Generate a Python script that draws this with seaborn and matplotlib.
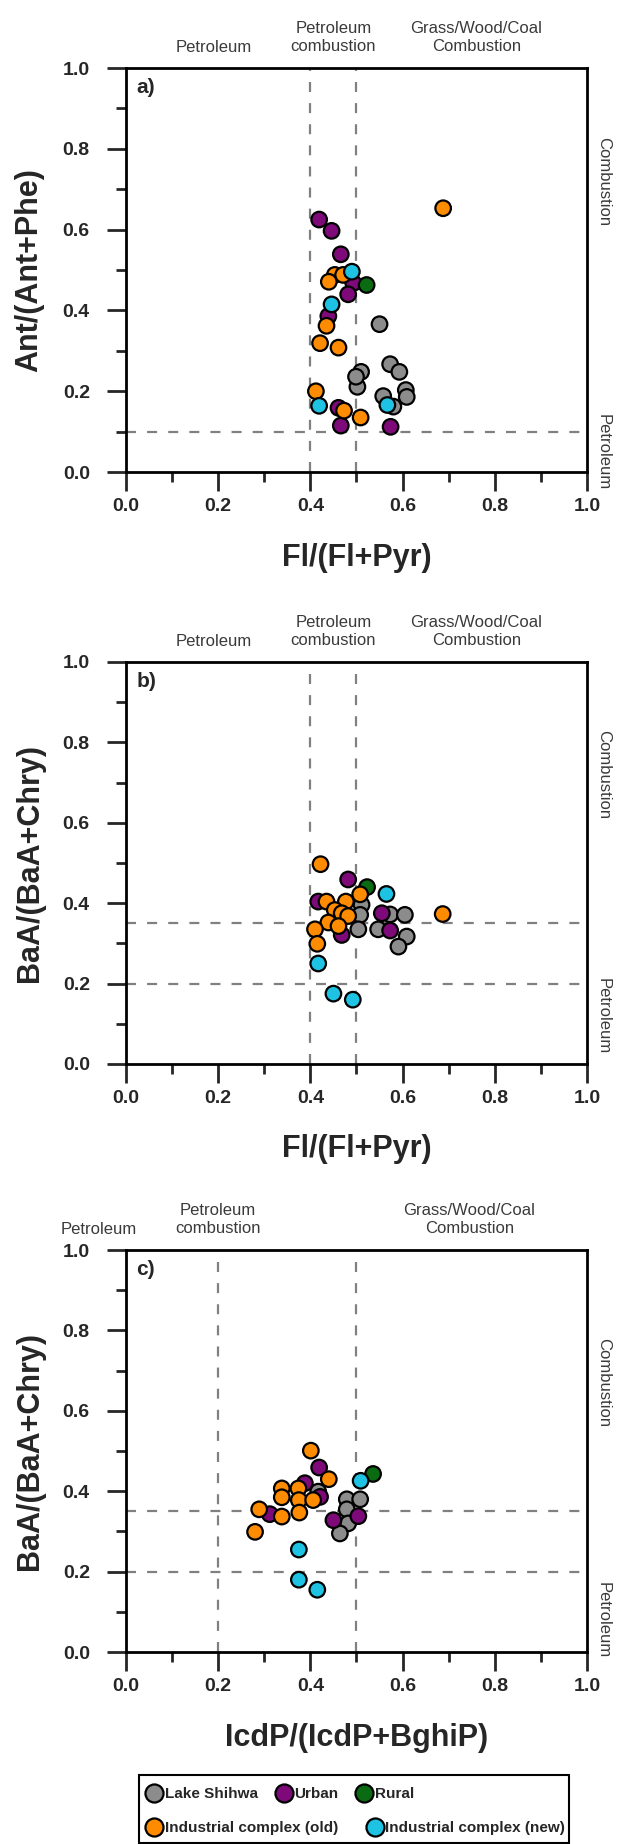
import matplotlib.pyplot as plt
import matplotlib.patches as mpatches
from matplotlib.lines import Line2D
from matplotlib.ticker import MultipleLocator
import pandas as pd
import seaborn as sns

# groups / colours
groups = ['Lake Shihwa', 'Urban', 'Rural', 'Industrial complex (old)', 'Industrial complex (new)']
colors = ['#8c8c8c', '#7d0a78', '#0b6b12', '#ff8c00', '#1ec3e3']

# panel a: Fl/(Fl+Pyr) vs Ant/(Ant+Phe)
a_x = [0.55, 0.573, 0.593, 0.510, 0.502, 0.499, 0.558, 0.607, 0.609, 0.58,
       0.419, 0.446, 0.466, 0.493, 0.482, 0.439, 0.461, 0.466, 0.574,
       0.522,
       0.688, 0.453, 0.471, 0.440, 0.435, 0.421, 0.461, 0.412, 0.473, 0.509,
       0.490, 0.446, 0.419, 0.567]
a_y = [0.366, 0.267, 0.248, 0.248, 0.211, 0.236, 0.188, 0.203, 0.186, 0.162,
       0.625, 0.597, 0.539, 0.468, 0.44, 0.386, 0.159, 0.115, 0.112,
       0.463,
       0.653, 0.488, 0.488, 0.471, 0.362, 0.319, 0.308, 0.2, 0.152, 0.135,
       0.496, 0.415, 0.164, 0.166]
a_grp = ['Lake Shihwa'] * 10 + ['Urban'] * 9 + ['Rural'] + \
        ['Industrial complex (old)'] * 10 + ['Industrial complex (new)'] * 4

# panel b: Fl/(Fl+Pyr) vs BaA/(BaA+Chry)
b_x = [0.511, 0.573, 0.605, 0.508, 0.504, 0.547, 0.609, 0.591,
       0.482, 0.417, 0.555, 0.573, 0.468,
       0.523,
       0.422, 0.508, 0.435, 0.477, 0.453, 0.468, 0.482, 0.439, 0.461, 0.41,
       0.415, 0.687,
       0.565, 0.417, 0.45, 0.492]
b_y = [0.396, 0.372, 0.371, 0.371, 0.335, 0.335, 0.317, 0.292,
       0.459, 0.404, 0.375, 0.332, 0.321,
       0.44,
       0.497, 0.422, 0.404, 0.404, 0.383, 0.375, 0.368, 0.352, 0.343, 0.335,
       0.299, 0.373,
       0.423, 0.25, 0.175, 0.16]
b_grp = ['Lake Shihwa'] * 8 + ['Urban'] * 5 + ['Rural'] + \
        ['Industrial complex (old)'] * 12 + ['Industrial complex (new)'] * 4

# panel c: IcdP/(IcdP+BghiP) vs BaA/(BaA+Chry)
c_x = [0.417, 0.479, 0.508, 0.479, 0.482, 0.464,
       0.419, 0.388, 0.421, 0.312, 0.45, 0.504,
       0.536,
       0.401, 0.44, 0.338, 0.374, 0.338, 0.375, 0.406, 0.289, 0.338, 0.376, 0.28,
       0.509, 0.375, 0.375, 0.415]
c_y = [0.399, 0.38, 0.38, 0.355, 0.32, 0.295,
       0.459, 0.42, 0.386, 0.343, 0.328, 0.338,
       0.443,
       0.501, 0.43, 0.407, 0.407, 0.385, 0.378, 0.378, 0.355, 0.337, 0.347, 0.299,
       0.426, 0.255, 0.18, 0.155]
c_grp = ['Lake Shihwa'] * 6 + ['Urban'] * 6 + ['Rural'] + \
        ['Industrial complex (old)'] * 11 + ['Industrial complex (new)'] * 4

panels = [
    ('a)', a_x, a_y, a_grp, 'Fl/(Fl+Pyr)', 'Ant/(Ant+Phe)', [0.4, 0.5], [0.1]),
    ('b)', b_x, b_y, b_grp, 'Fl/(Fl+Pyr)', 'BaA/(BaA+Chry)', [0.4, 0.5], [0.35, 0.2]),
    ('c)', c_x, c_y, c_grp, 'IcdP/(IcdP+BghiP)', 'BaA/(BaA+Chry)', [0.2, 0.5], [0.35, 0.2]),
]
# top labels (x centre in data units)
top_labels = [
    [(0.19, 'Petroleum'), (0.45, 'Petroleum\ncombustion'), (0.76, 'Grass/Wood/Coal\nCombustion')],
    [(0.19, 'Petroleum'), (0.45, 'Petroleum\ncombustion'), (0.76, 'Grass/Wood/Coal\nCombustion')],
    [(-0.06, 'Petroleum'), (0.2, 'Petroleum\ncombustion'), (0.745, 'Grass/Wood/Coal\nCombustion')],
]
side_labels = [
    [(0.72, 'Combustion'), (0.05, 'Petroleum')],
    [(0.72, 'Combustion'), (0.12, 'Petroleum')],
    [(0.67, 'Combustion'), (0.08, 'Petroleum')],
]

sns.set_style('white')
plt.rcParams['font.family'] = ['Liberation Sans', 'DejaVu Sans']

fig = plt.figure(figsize=(6.23, 18.44), dpi=100)
palette = dict(zip(groups, colors))
ax_boxes = [[0.2022, 0.7440, 0.740, 0.2191],
            [0.2022, 0.4230, 0.740, 0.2180],
            [0.2022, 0.1041, 0.740, 0.2180]]

for i, (tag, xs, ys, grp, xl, yl, vlines, hlines) in enumerate(panels):
    ax = fig.add_axes(ax_boxes[i])
    for v in vlines:
        ax.axvline(v, color='#808080', lw=1.6, dashes=(4.5, 5), zorder=1)
    for h in hlines:
        ax.axhline(h, color='#808080', lw=1.6, dashes=(4.5, 5), zorder=1)
    df = pd.DataFrame({'x': xs, 'y': ys, 'g': grp})
    sns.scatterplot(data=df, x='x', y='y', hue='g', palette=palette, s=125,
                    edgecolor='black', linewidth=1.6, legend=False, ax=ax, zorder=3)
    ax.set_xlim(0, 1)
    ax.set_ylim(0, 1)
    ax.xaxis.set_major_locator(MultipleLocator(0.2))
    ax.xaxis.set_minor_locator(MultipleLocator(0.1))
    ax.yaxis.set_major_locator(MultipleLocator(0.2))
    ax.yaxis.set_minor_locator(MultipleLocator(0.1))
    ax.xaxis.set_major_formatter(lambda v, p: f'{v:.1f}')
    ax.yaxis.set_major_formatter(lambda v, p: f'{v:.1f}')
    ax.tick_params(which='major', direction='out', length=13.5, width=2, labelsize=14)
    ax.tick_params(axis='x', which='major', pad=5)
    ax.tick_params(axis='y', which='major', pad=12.5)
    ax.tick_params(which='minor', direction='out', length=7, width=2)
    ax.tick_params(top=False, right=False, left=True, bottom=True, which='both')
    for lab in ax.get_xticklabels() + ax.get_yticklabels():
        lab.set_fontweight('bold')
    for sp in ax.spines.values():
        sp.set_linewidth(2)
        sp.set_color('black')
    ax.set_xlabel(xl, fontsize=22, fontweight='bold', labelpad=20)
    ax.set_ylabel(yl, fontsize=22, fontweight='bold', labelpad=13)
    ax.text(0.022, 0.975, tag, transform=ax.transAxes, fontsize=15, fontweight='bold',
            va='top', ha='left')
    tr = ax.get_xaxis_transform()
    for xc, t in top_labels[i]:
        ax.text(xc, 1.075 if '\n' in t else 1.05, t, transform=tr, ha='center', va='center',
                fontsize=12, color='#3a3a3a', linespacing=1.25, clip_on=False)
    tr2 = ax.get_yaxis_transform()
    for yc, t in side_labels[i]:
        ax.text(1.035, yc, t, transform=tr2, ha='center', va='center', rotation=-90,
                fontsize=12, color='#3a3a3a', clip_on=False)

# legend box at the bottom
handles = [Line2D([], [], marker='o', ls='', markersize=13, markerfacecolor=c,
                  markeredgecolor='black', markeredgewidth=1.6) for c in colors]
leg_kw = dict(frameon=False, handletextpad=0.2, borderaxespad=0, handlelength=1.0,
              prop={'weight': 'bold', 'size': 11})
l1 = fig.legend(handles[:3], groups[:3], loc='center left', ncol=3, columnspacing=1.2,
                bbox_to_anchor=(0.225, 1 - 1794 / 1844), **leg_kw)
l2 = fig.legend(handles[3:], groups[3:], loc='center left', ncol=2, columnspacing=1.9,
                bbox_to_anchor=(0.225, 1 - 1828 / 1844), **leg_kw)
fig.patches.append(mpatches.Rectangle((0.223, 1 - 1843 / 1844), 0.69, 68 / 1844,
                                      transform=fig.transFigure, fill=False,
                                      edgecolor='black', linewidth=1.5))

fig.savefig('out.png', dpi=100)
